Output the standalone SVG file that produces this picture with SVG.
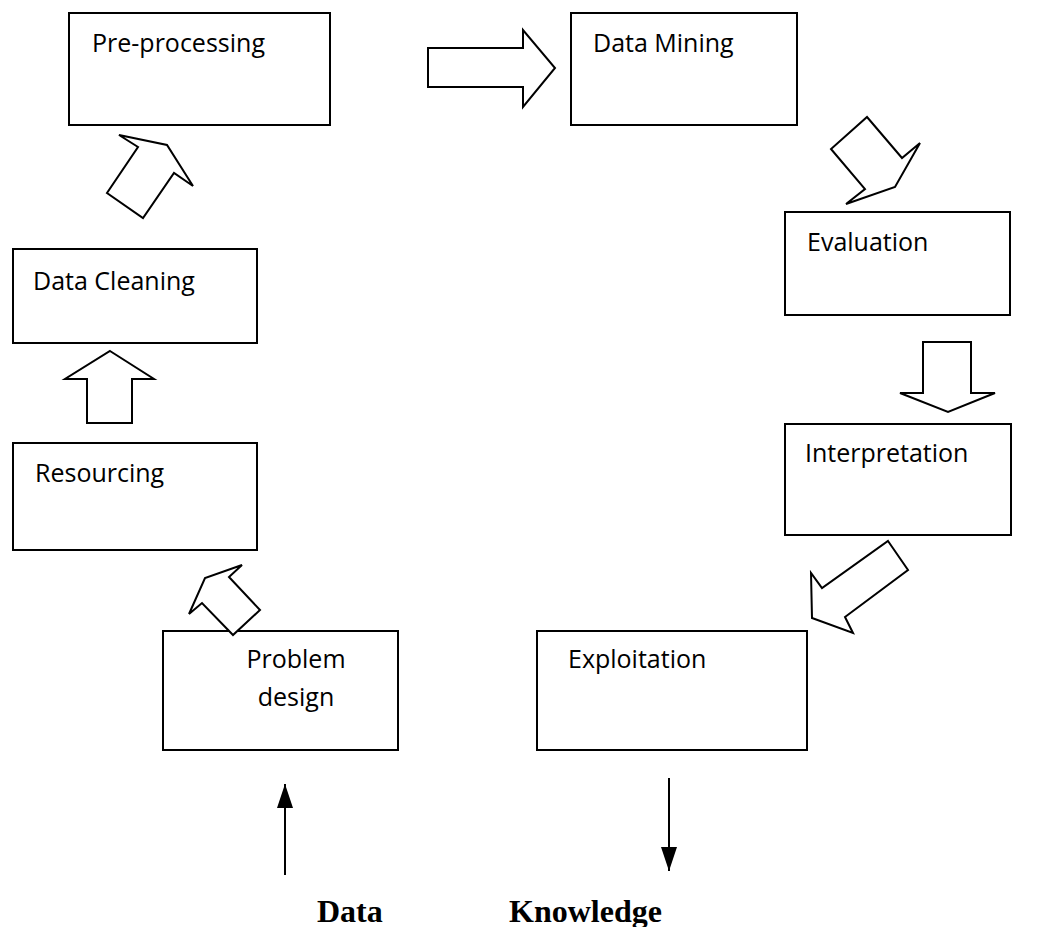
<svg xmlns="http://www.w3.org/2000/svg" width="1061" height="927" viewBox="0 0 1061 927">
<style>
.box{fill:#fff;stroke:#000;stroke-width:2}
.blk{fill:#fff;stroke:#000;stroke-width:2;stroke-linejoin:miter}
.lbl{font-family:"Open Sans","Liberation Sans",sans-serif;font-size:25px;fill:#000}
.io{font-family:"Liberation Serif","Times New Roman",serif;font-size:32px;font-weight:bold;fill:#000}
.ln{stroke:#000;stroke-width:2;fill:none}
</style>
<defs>
<marker id="ah" viewBox="0 0 16 24" refX="16" refY="8" markerWidth="16" markerHeight="24" markerUnits="userSpaceOnUse" orient="auto">
<path d="M0,0 L24,8 L0,16 Z" fill="#000"/>
</marker>
<marker id="a2" viewBox="0 0 24 16" refX="24" refY="8" markerWidth="24" markerHeight="16" markerUnits="userSpaceOnUse" orient="auto">
<path d="M0,0 L24,8 L0,16 Z" fill="#000"/>
</marker>
</defs>
<rect width="1061" height="927" fill="#fff"/>
<g id="pre-processing"><rect class="box" x="69" y="13" width="261" height="112"/><text class="lbl" x="92" y="52">Pre-processing</text></g>
<g id="data-mining"><rect class="box" x="571" y="13" width="226" height="112"/><text class="lbl" x="593" y="52">Data Mining</text></g>
<g id="evaluation"><rect class="box" x="785" y="212" width="225" height="103"/><text class="lbl" x="807" y="251">Evaluation</text></g>
<g id="interpretation"><rect class="box" x="785" y="424" width="226" height="111"/><text class="lbl" x="805" y="462">Interpretation</text></g>
<g id="exploitation"><rect class="box" x="537" y="631" width="270" height="119"/><text class="lbl" x="568" y="668">Exploitation</text></g>
<g id="problem-design"><rect class="box" x="163" y="631" width="235" height="119"/><text class="lbl" x="296" y="668" text-anchor="middle">Problem</text><text class="lbl" x="296" y="706" text-anchor="middle">design</text></g>
<g id="resourcing"><rect class="box" x="13" y="443" width="244" height="107"/><text class="lbl" x="35" y="482">Resourcing</text></g>
<g id="data-cleaning"><rect class="box" x="13" y="249" width="244" height="94"/><text class="lbl" x="33" y="290">Data Cleaning</text></g>
<g id="connectors">
<polygon class="blk" points="428,48 523,48 523,30 555,68 523,107 523,87 428,87"/>
<polygon class="blk" points="867,117 902,158 920,143 895,187 846,204 865,189 831,149"/>
<polygon class="blk" points="923,342 971,342 971,393 995,393 948,412 900,393 923,393"/>
<polygon class="blk" points="888,541 908,570 845,617 853,633 812,618 811,573 822,588"/>
<polygon class="blk" points="242,565 229,577 260,610 233,635 202,603 189,614 205,578"/>
<polygon class="blk" points="110,351 154,379 132,379 132,423 87,423 87,379 65,379"/>
<polygon class="blk" points="119,135 167,145 193,186 174,173 143,218 107,193 138,147"/>
<line class="ln" x1="285" y1="875" x2="285" y2="784" marker-end="url(#a2)"/>
<line class="ln" x1="669" y1="778" x2="669" y2="871" marker-end="url(#a2)"/>
</g>
<text class="io" x="317" y="922">Data</text>
<text class="io" x="509" y="922">Knowledge</text>
</svg>
